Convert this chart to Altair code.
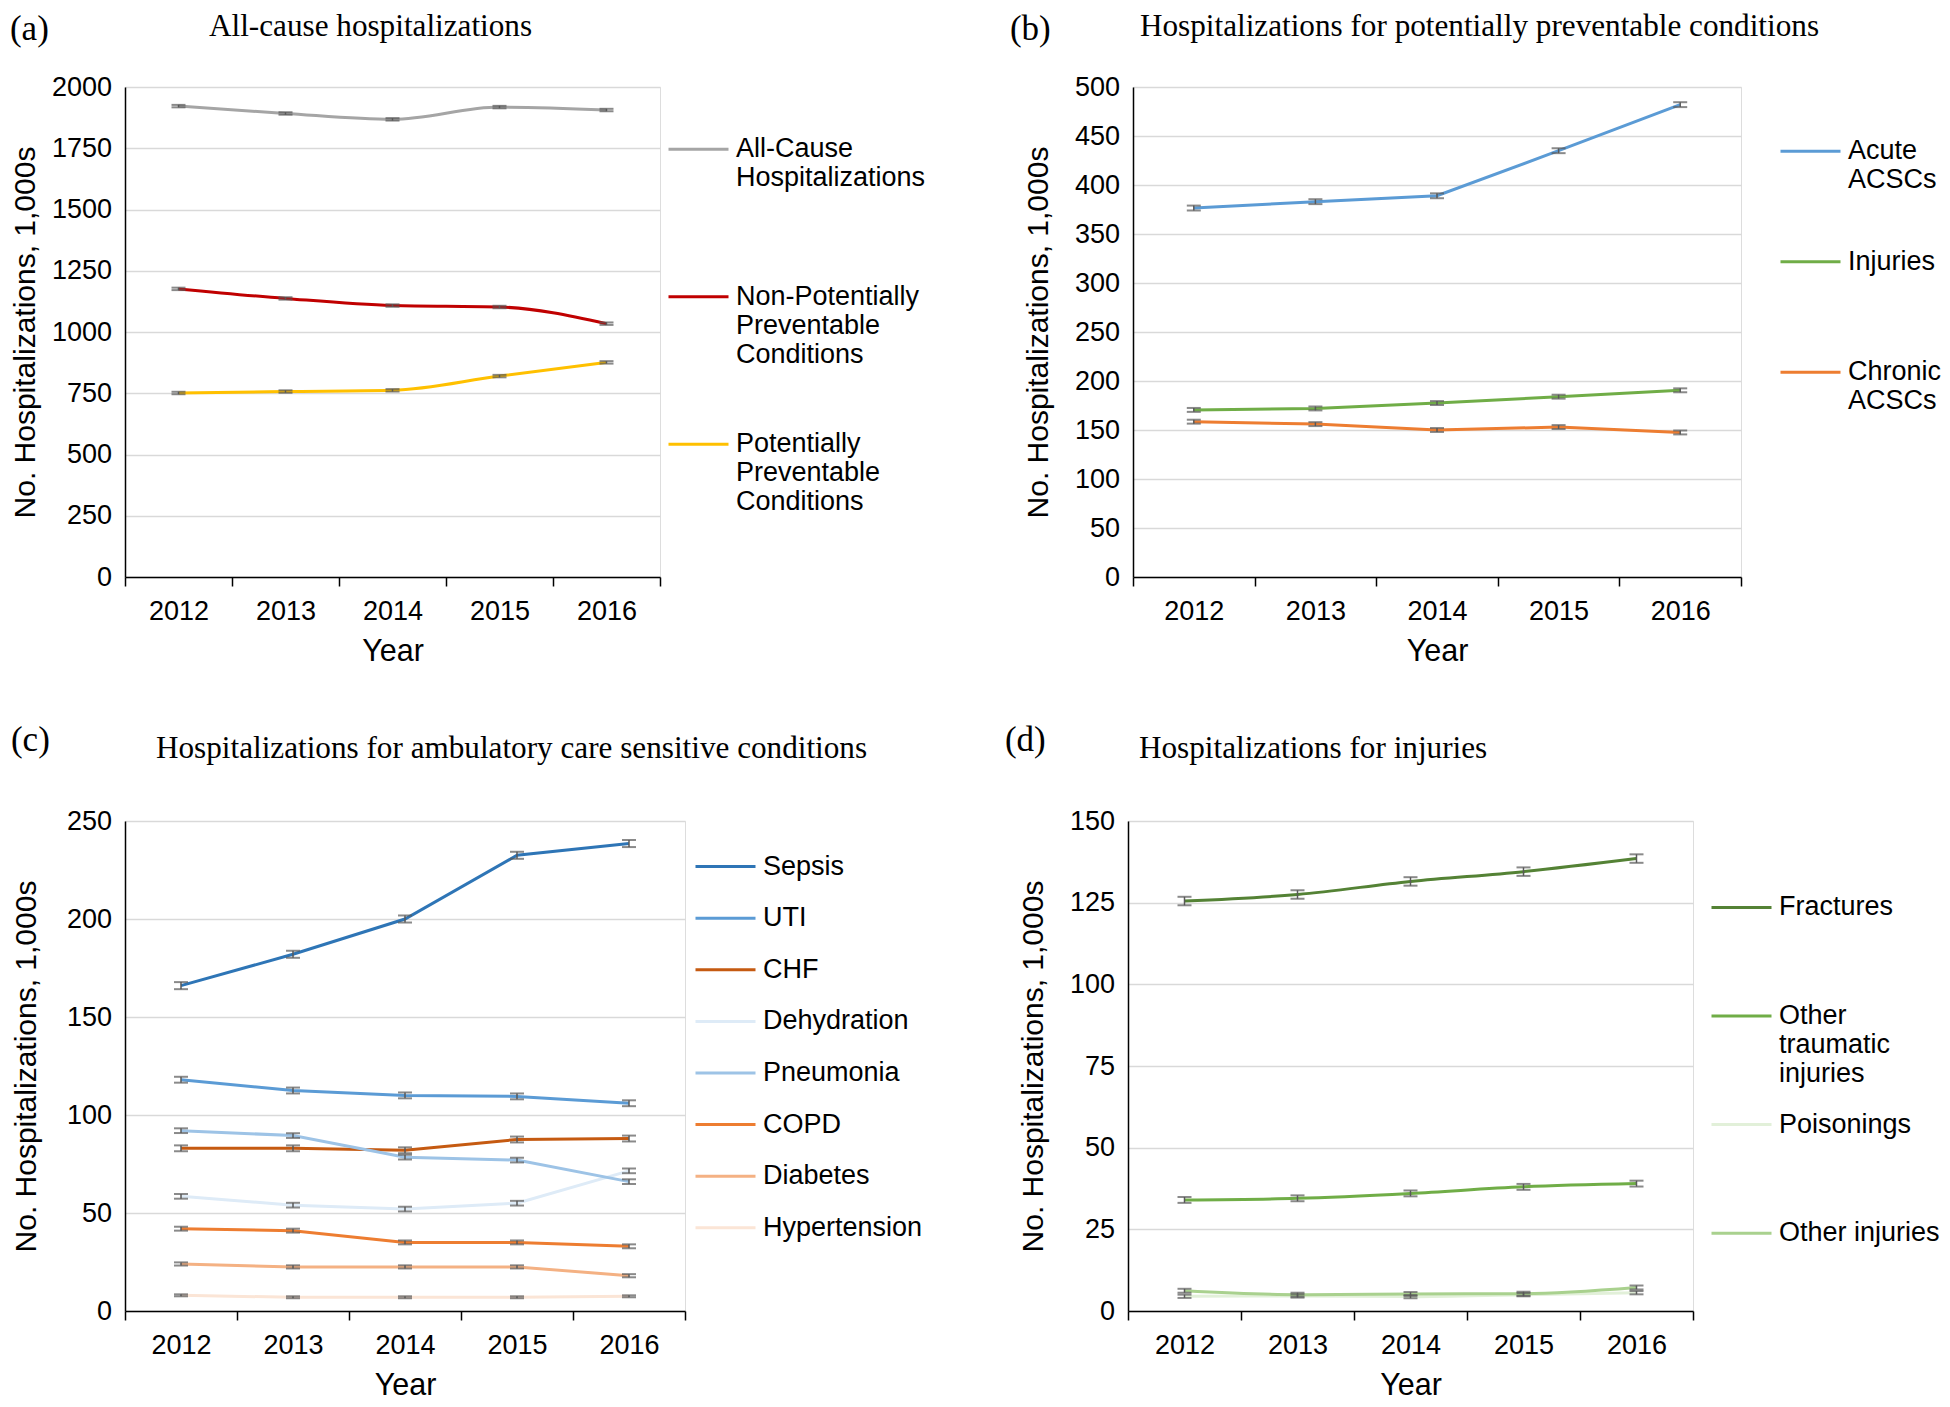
import altair as alt
import pandas as pd

SERIF = "Liberation Serif"
SANS = "Liberation Sans"

years = [2012, 2013, 2014, 2015, 2016]

# Panel (a)
a_names = ["All-Cause\nHospitalizations\n", "Non-Potentially\nPreventable\nConditions",
           "Potentially\nPreventable\nConditions"]
a_values = [
    [1922, 1892, 1868, 1918, 1906],
    [1176, 1137, 1108, 1102, 1034],
    [751, 757, 762, 820, 876],
]
a_err = [5, 5, 5]
a_colors = ["#A5A5A5", "#C00000", "#FFC000"]

# Panel (b)
b_names = ["Acute\nACSCs", "Injuries\n", "Chronic\nACSCs"]
b_values = [
    [376.5, 383, 389, 435, 482],
    [170.5, 172, 177.5, 184, 190.5],
    [158.5, 156, 150, 153, 147.5],
]
b_err = [2.5, 2, 2]
b_colors = ["#5B9BD5", "#70AD47", "#ED7D31"]

# Panel (c)
c_names = ["Sepsis", "UTI", "CHF", "Dehydration", "Pneumonia", "COPD", "Diabetes", "Hypertension"]
c_values = [
    [166, 182, 200, 232.5, 238.5],
    [118, 112.5, 110, 109.5, 106],
    [83, 83, 82, 87.5, 88],
    [58.5, 54, 52, 55, 71.5],
    [92, 89.5, 78.5, 77, 66],
    [42, 41, 35, 35, 33],
    [24, 22.5, 22.5, 22.5, 18],
    [8, 7, 7, 7, 7.5],
]
c_err = [1.8, 1.5, 1.5, 1.2, 1.2, 1.0, 0.8, 0.5]
c_colors = ["#2E75B6", "#5B9BD5", "#C55A11", "#DEEBF7", "#9DC3E6", "#ED7D31", "#F4B183", "#FBE5D6"]

# Panel (d)
d_names = ["Fractures\n\n", "Other\ntraumatic\ninjuries", "Poisonings\n\n", "Other injuries\n\n"]
d_values = [
    [125.5, 127.5, 131.5, 134.5, 138.5],
    [34, 34.5, 36, 38, 39],
    [4.5, 4.6, 4.4, 5.0, 5.6],
    [6.2, 5.0, 5.2, 5.3, 7.2],
]
d_err = [1.3, 0.9, 0.5, 0.6]
d_colors = ["#548235", "#70AD47", "#E2F0D9", "#A9D18E"]


def panel(label, title, names, values, errs, colors, ymax, ystep, width, height,
          legend_x, legend_y, row_pad, interp, title_dx, title_offset, lab_dx, lab_offset,
          ytitle_pad):
    rows, caps = [], []
    for k, (n, vals, e) in enumerate(zip(names, values, errs)):
        for yr, v in zip(years, vals):
            rows.append({"year": yr, "series": n, "value": v, "lo": v - e, "hi": v + e, "order": k})
            caps.append({"year": yr, "series": n, "value": v - e, "order": k})
            caps.append({"year": yr, "series": n, "value": v + e, "order": k})
    df = pd.DataFrame(rows)
    cdf = pd.DataFrame(caps)

    x_enc = alt.X(
        "year:O", title="Year", bandPosition=0.5,
        scale=alt.Scale(type="band", paddingInner=0, paddingOuter=0),
        axis=alt.Axis(labelAngle=0, tickBand="extent", tickSize=9, tickWidth=1.5,
                      tickColor="black", domainColor="black", domainWidth=1.5,
                      labelFont=SANS, labelFontSize=27, labelColor="black",
                      labelPadding=12, titleFont=SANS, titleFontSize=30.5,
                      titleFontWeight="normal", titleColor="black", titlePadding=12, grid=False),
    )
    y_scale = alt.Scale(domain=[0, ymax], nice=False, zero=True)
    y_axis = alt.Axis(values=list(range(0, ymax + 1, ystep)), format="d", ticks=False, grid=True,
                      gridColor="#D9D9D9", gridWidth=1.5, domainColor="black", domainWidth=1.5,
                      labelFont=SANS, labelFontSize=27, labelColor="black", labelPadding=13.5,
                      titleFont=SANS, titleFontSize=30, titleFontWeight="normal",
                      titleColor="black", titlePadding=ytitle_pad)
    ytitle = "No. Hospitalizations, 1,000s"

    line = alt.Chart(df).mark_line(strokeWidth=3, interpolate=interp).encode(
        x=x_enc,
        y=alt.Y("value:Q", title=ytitle, scale=y_scale, axis=y_axis),
        color=alt.Color(
            "series:N",
            scale=alt.Scale(domain=names, range=colors),
            sort=names,
            legend=alt.Legend(
                orient="none", legendX=legend_x, legendY=legend_y, title=None,
                symbolType="stroke", symbolSize=3600, symbolStrokeWidth=3,
                labelFont=SANS, labelFontSize=27, labelColor="black", labelLimit=500,
                labelOffset=6, rowPadding=row_pad, padding=0, labelBaseline="middle",
                labelExpr="split(datum.label, '\\n')",
            ),
        ),
        order="order:Q",
    )
    bars = alt.Chart(df).mark_rule(color="#595959", strokeWidth=1.5).encode(
        x=x_enc,
        y=alt.Y("lo:Q", title=ytitle, scale=y_scale, axis=y_axis),
        y2="hi:Q",
    )
    capm = alt.Chart(cdf).mark_tick(color="#595959", size=14, thickness=2).encode(
        x=x_enc,
        y=alt.Y("value:Q", title=ytitle, scale=y_scale, axis=y_axis),
        detail="series:N",
    )
    layer = alt.layer(line, bars, capm).properties(
        width=width, height=height,
        title=alt.Title(title, font=SERIF, fontSize=31.2, fontWeight="normal", color="black",
                        anchor="start", frame="group", dx=title_dx, offset=title_offset),
    )
    wrap = alt.hconcat(layer, title=alt.Title(label, font=SERIF, fontSize=35, fontWeight="normal",
                                              color="black", anchor="start", frame="bounds",
                                              dx=lab_dx, offset=lab_offset))
    return wrap


H = 490
pa = panel("(a)", "All-cause hospitalizations", a_names, a_values, a_err, a_colors, 2000, 250,
           535, H, 542, 30.7, 44.5, "monotone", 84, 31, 0, -37, 11)
pb = panel("(b)", "Hospitalizations for potentially preventable conditions", b_names, b_values,
           b_err, b_colors, 500, 50, 608, H, 646, 32.7, 36.5, "linear", 7, 31, -13, -37, 21)
pc = panel("(c)", "Hospitalizations for ambulatory care sensitive conditions", c_names, c_values,
           c_err, c_colors, 250, 50, 560, H, 569, 14.1, 6.6, "linear", 31, 43, 0, -26, 25)
pd_ = panel("(d)", "Hospitalizations for injuries", d_names, d_values, d_err, d_colors,
            150, 25, 565, H, 582, 54.9, 5.6, "monotone", 11, 43, -13, -26, 21)

row1 = alt.hconcat(pa, pb, spacing=83).resolve_scale(color="independent")
row2 = alt.hconcat(pc, pd_, spacing=81).resolve_scale(color="independent")
chart = alt.concat(row1, row2, columns=1, align="none", spacing=56).resolve_scale(
    color="independent"
).properties(
    padding={"left": 1, "top": 2, "right": 0, "bottom": 0}
).configure_view(stroke=None).configure(background="white")

chart.save("out.html", embed_options={"renderer": "svg", "actions": False})
